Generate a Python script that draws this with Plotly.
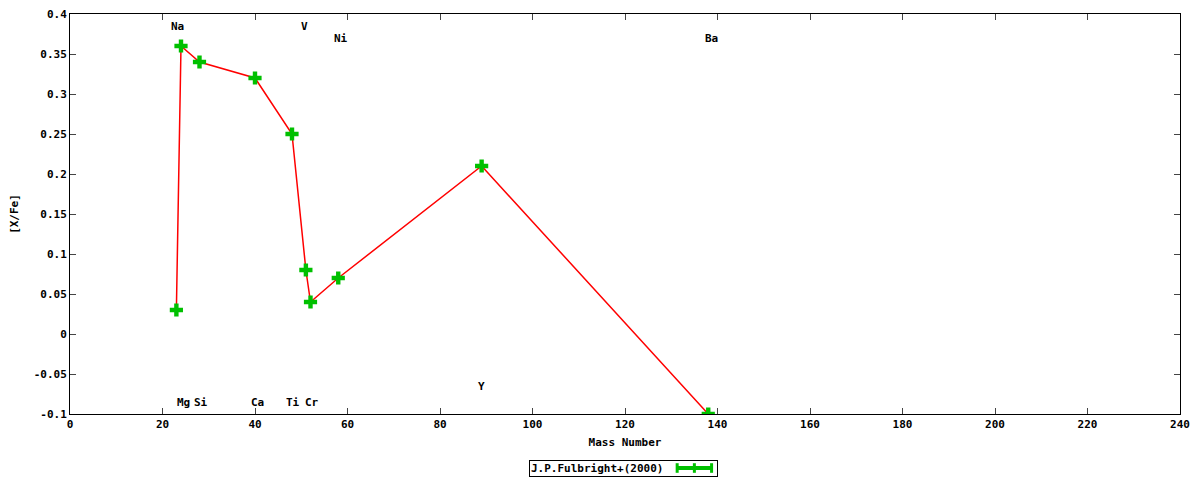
import plotly.graph_objects as go

# Data
mass_number = [23, 24, 28, 40, 48, 51, 52, 58, 89, 138]
x_fe = [0.03, 0.36, 0.34, 0.32, 0.25, 0.08, 0.04, 0.07, 0.21, -0.10]

label_text = ["Na", "Mg", "Si", "Ca", "Ti", "V", "Cr", "Ni", "Y", "Ba"]
label_x = [23.3, 24.5, 28.3, 40.5, 48.3, 50.8, 52.3, 58.5, 88.9, 138.8]
label_y = [0.385, -0.086, -0.086, -0.086, -0.086, 0.385, -0.086, 0.37, -0.066, 0.37]

x_tickvals = [0, 20, 40, 60, 80, 100, 120, 140, 160, 180, 200, 220, 240]
y_tickvals = [0.4, 0.35, 0.3, 0.25, 0.2, 0.15, 0.1, 0.05, 0, -0.05, -0.1]
y_ticktext = ["0.4", "0.35", "0.3", "0.25", "0.2", "0.15", "0.1", "0.05", "0", "-0.05", "-0.1"]

series_name = "J.P.Fulbright+(2000)"

FONT = "DejaVu Sans Mono"
GREEN = "#00c000"
RED = "#ff0000"

fig = go.Figure()
fig.add_trace(go.Scatter(
    x=mass_number, y=x_fe, mode="lines",
    line=dict(color=RED, width=1.5), showlegend=False, hoverinfo="skip"))
fig.add_trace(go.Scatter(
    x=mass_number, y=x_fe, mode="markers",
    marker=dict(symbol="cross", size=11, color=GREEN, line=dict(width=0)),
    showlegend=False))

for t, lx, ly in zip(label_text, label_x, label_y):
    fig.add_annotation(x=lx, y=ly, text=t, showarrow=False,
                       font=dict(family=FONT, size=11, color="black", weight="bold"),
                       xanchor="center", yanchor="middle")

# legend box (custom, text then sample)
ly = -0.135
fig.add_annotation(xref="paper", yref="paper", x=0.4135, y=ly,
                   text=series_name + "        ", showarrow=False,
                   xanchor="left", yanchor="middle",
                   font=dict(family=FONT, size=11, color="black", weight="bold"),
                   bordercolor="black", borderwidth=1, borderpad=1,
                   bgcolor="rgba(0,0,0,0)")
lx0, lx1 = 0.547, 0.578
fig.add_shape(type="line", xref="paper", yref="paper", x0=lx0, x1=lx1, y0=ly, y1=ly,
              line=dict(color=GREEN, width=4))
for xx in (lx0, lx1, (lx0 + lx1) / 2):
    fig.add_shape(type="line", xref="paper", yref="paper", x0=xx, x1=xx,
                  y0=ly - 0.012, y1=ly + 0.012, line=dict(color=GREEN, width=3))

# page body has an 8px margin, so the figure is sized/margined to compensate
fig.update_layout(
    width=1192, height=472,
    margin=dict(l=62, r=20, t=6, b=66, autoexpand=False),
    plot_bgcolor="white", paper_bgcolor="white",
    font=dict(family=FONT, size=11, color="black"),
    showlegend=False,
)
fig.update_xaxes(range=[0, 240], tickvals=x_tickvals, ticks="inside", ticklen=6,
                 showline=True, linecolor="black", linewidth=1, mirror="allticks",
                 showgrid=False, zeroline=False, automargin=False,
                 ticklabeloverflow="allow",
                 tickfont=dict(family=FONT, size=11, weight="bold"),
                 title=dict(text="Mass Number", standoff=8,
                            font=dict(family=FONT, size=11, weight="bold")))
fig.update_yaxes(range=[-0.1, 0.4], tickvals=y_tickvals, ticktext=y_ticktext,
                 ticks="inside", ticklen=6,
                 showline=True, linecolor="black", linewidth=1, mirror="allticks",
                 showgrid=False, zeroline=False, automargin=False,
                 ticklabeloverflow="allow",
                 tickfont=dict(family=FONT, size=11, weight="bold"),
                 title=dict(text="[X/Fe]", standoff=14,
                            font=dict(family=FONT, size=11, weight="bold")))

fig.write_html("out.html")
